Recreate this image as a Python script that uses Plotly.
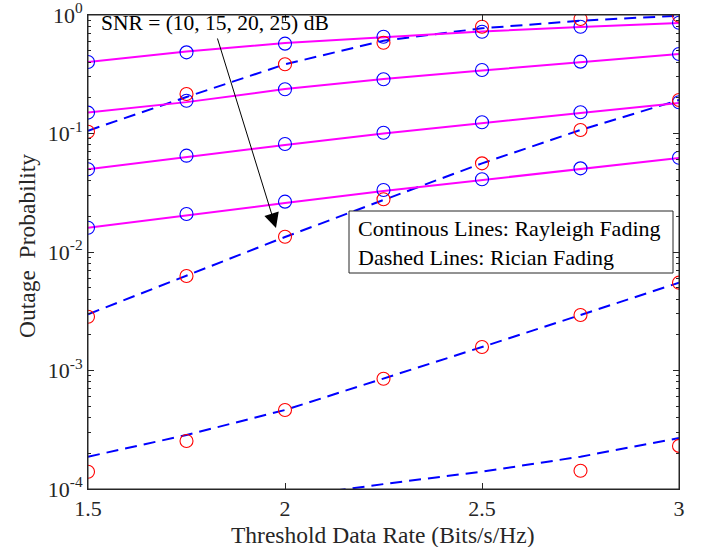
import plotly.graph_objects as go

# ---------------- data ----------------
rate = [1.5, 1.75, 2.0, 2.25, 2.5, 2.75, 3.0]

# Rayleigh fading: analytical (continuous lines) and simulation (markers)
rayleigh_line_10dB = [0.401, 0.492, 0.580, 0.652, 0.726, 0.792, 0.856]
rayleigh_line_15dB = [0.150, 0.184, 0.237, 0.288, 0.340, 0.401, 0.469]
rayleigh_line_20dB = [0.0499, 0.0633, 0.0800, 0.100, 0.1227, 0.149, 0.181]
rayleigh_line_25dB = [0.0160, 0.0205, 0.0259, 0.0327, 0.0405, 0.0502, 0.0621]

rayleigh_sim_10dB = [0.401, 0.484, 0.573, 0.656, 0.723, 0.797, 0.861]
rayleigh_sim_15dB = [0.150, 0.189, 0.236, 0.287, 0.343, 0.404, 0.469]
rayleigh_sim_20dB = [0.0499, 0.0650, 0.0815, 0.1016, 0.1243, 0.151, 0.1834]
rayleigh_sim_25dB = [0.0160, 0.0209, 0.0266, 0.0334, 0.0411, 0.0508, 0.0625]

# Rician fading: analytical (dashed lines) and simulation (markers)
rician_line_10dB = [0.1056, 0.2033, 0.3837, 0.607, 0.772, 0.895, 0.987]
rician_line_15dB = [0.00298, 0.00627, 0.01338, 0.02747, 0.0560, 0.1070, 0.1917]
rician_line_20dB = [1.873e-4, 2.855e-4, 4.64e-4, 8.52e-4, 1.578e-3, 2.94e-3, 5.51e-3]
rician_line_25dB = [6.0e-5, 7.2e-5, 8.5e-5, 1.10e-4, 1.40e-4, 1.873e-4, 2.69e-4]

rician_sim_10dB = [0.1036, 0.2154, 0.3837, 0.584, 0.797, 0.925, 0.987]
rician_sim_15dB = [0.00284, 0.00627, 0.01346, 0.02784, 0.0560, 0.107, 0.1917]
rician_sim_20dB = [1.40e-4, 2.54e-4, 4.64e-4, 8.52e-4, 1.578e-3, 2.94e-3, 5.51e-3]
rician_sim_25dB = [None, None, None, None, None, 1.427e-4, 2.31e-4]

y_tickvals = [1e-4, 1e-3, 1e-2, 1e-1, 1]
y_ticktext = ["10<sup>-4</sup>", "10<sup>-3</sup>", "10<sup>-2</sup>", "10<sup>-1</sup>", "10<sup>0</sup>"]
x_tickvals = [1.5, 2, 2.5, 3]
x_ticktext = ["1.5", "2", "2.5", "3"]

# ---------------- figure ----------------
FONT = "Liberation Serif, Times New Roman, serif"
AX = "#262626"
W, H = 702, 547
L, R, T, B = 88, 679, 15, 489  # plot area in pixels
PW, PH = R - L, B - T

def px(xp):
    return (xp - L) / PW

def py(yp):
    return (B - yp) / PH

fig = go.Figure()

for ys in [rician_line_10dB, rician_line_15dB, rician_line_20dB, rician_line_25dB]:
    fig.add_trace(go.Scatter(x=rate, y=ys, mode="lines",
                             line=dict(color="#0000FF", width=2, dash="12px,7px"),
                             showlegend=False, hoverinfo="skip"))
for ys in [rayleigh_line_10dB, rayleigh_line_15dB, rayleigh_line_20dB, rayleigh_line_25dB]:
    fig.add_trace(go.Scatter(x=rate, y=ys, mode="lines",
                             line=dict(color="#FF00FF", width=2),
                             showlegend=False, hoverinfo="skip"))
for ys in [rayleigh_sim_10dB, rayleigh_sim_15dB, rayleigh_sim_20dB, rayleigh_sim_25dB]:
    fig.add_trace(go.Scatter(x=rate, y=ys, mode="markers",
                             marker=dict(symbol="circle-open", size=13, color="#0000FF",
                                         line=dict(width=1.1)),
                             showlegend=False))
for ys in [rician_sim_10dB, rician_sim_15dB, rician_sim_20dB, rician_sim_25dB]:
    fig.add_trace(go.Scatter(x=rate, y=ys, mode="markers",
                             marker=dict(symbol="circle-open", size=13, color="#FF0000",
                                         line=dict(width=1.1)),
                             showlegend=False))

minor_vals = [k * 10.0 ** e for e in range(-4, 0) for k in range(2, 10)]

fig.update_xaxes(range=[1.5, 3], tickvals=x_tickvals, ticktext=x_ticktext,
                 ticks="inside", ticklen=6, tickcolor=AX, showline=True, linecolor=AX,
                 linewidth=1, mirror="ticks", showgrid=False, zeroline=False,
                 automargin=False, ticklabeloverflow="allow",
                 tickfont=dict(family=FONT, size=22, color=AX))
fig.update_yaxes(type="log", range=[-4, 0], tickvals=y_tickvals, ticktext=y_ticktext,
                 ticks="inside", ticklen=6, tickcolor=AX, showline=True, linecolor=AX,
                 linewidth=1, mirror="ticks", showgrid=False, zeroline=False,
                 automargin=False, ticklabeloverflow="allow",
                 minor=dict(tickvals=minor_vals, ticks="inside", ticklen=3,
                            tickcolor=AX, showgrid=False),
                 tickfont=dict(family=FONT, size=22, color=AX))

# plot-area frame
fig.add_shape(type="rect", xref="paper", yref="paper", x0=0, x1=1, y0=0, y1=1,
              line=dict(color=AX, width=1), layer="above")

# axis titles
fig.add_annotation(text="Threshold Data Rate (Bits/s/Hz)", xref="paper", yref="paper",
                   x=px(382), y=py(535), xanchor="center", yanchor="middle",
                   showarrow=False, font=dict(family=FONT, size=23.5, color=AX))
fig.add_annotation(text="Outage  Probability", xref="paper", yref="paper",
                   x=px(27), y=py(246), xanchor="center", yanchor="middle", textangle=-90,
                   showarrow=False, font=dict(family=FONT, size=23.5, color=AX))

# SNR label and arrow
fig.add_annotation(text="SNR = (10, 15, 20, 25) dB", xref="paper", yref="paper",
                   x=px(99), y=py(23), xanchor="left", yanchor="middle",
                   showarrow=False, font=dict(family=FONT, size=21.5, color="black"))
fig.add_annotation(text="", x=1.5 + (276 - L) / (PW / 1.5), y=-(228 - T) / (PH / 4),
                   xref="x", yref="y", showarrow=True, ax=217 - 276, ay=37 - 228,
                   arrowhead=2, arrowsize=3, arrowwidth=1, arrowcolor="black")

# legend text box
fig.add_shape(type="rect", xref="paper", yref="paper",
              x0=px(349), x1=px(673), y0=py(273), y1=py(211),
              line=dict(color=AX, width=1), fillcolor="white", layer="above")
fig.add_annotation(text="Continous Lines: Rayleigh Fading<br>Dashed Lines: Rician Fading",
                   xref="paper", yref="paper", x=px(356), y=py(243),
                   xanchor="left", yanchor="middle", align="left", showarrow=False,
                   font=dict(family=FONT, size=22, color="black"))

fig.update_layout(width=W, height=H,
                  margin=dict(l=L, r=W - R, t=T, b=H - B),
                  paper_bgcolor="white", plot_bgcolor="white", showlegend=False)

fig.write_html("out.html", config={"displayModeBar": False},
               post_script="document.body.style.margin='0';"
                           "document.body.style.overflow='hidden';")
